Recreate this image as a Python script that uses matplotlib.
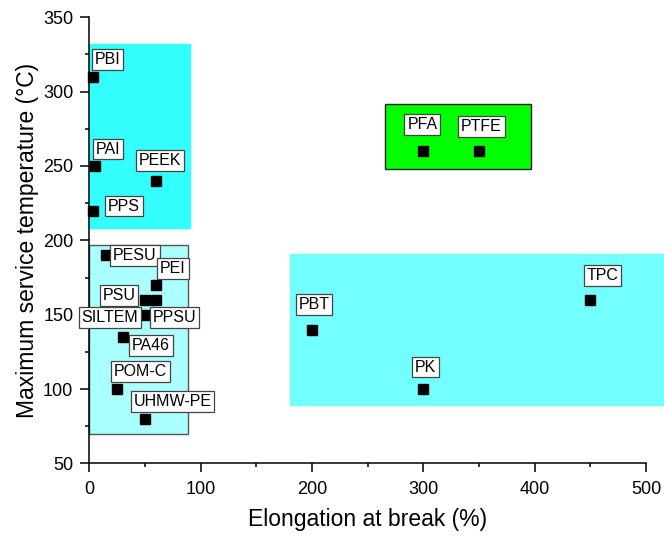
import matplotlib
matplotlib.use("Agg")
import matplotlib.pyplot as plt
from matplotlib.patches import Rectangle
from matplotlib.ticker import MultipleLocator

plt.rcParams['font.family'] = ['Liberation Sans', 'DejaVu Sans']

# ======= data =======
names = ['PBI', 'PAI', 'PEEK', 'PPS', 'PESU', 'PEI', 'PSU', 'SILTEM', 'PPSU',
         'PA46', 'POM-C', 'UHMW-PE', 'PFA', 'PTFE', 'PBT', 'PK', 'TPC']
elongation = [3, 5, 60, 3, 15, 60, 50, 50, 60, 30, 25, 50, 300, 350, 200, 300, 450]
max_temp = [310, 250, 240, 220, 190, 170, 160, 150, 160, 135, 100, 80, 260, 260, 140, 100, 160]

# shaded regions: (x0, x1, y0, y1)
region_x0 = [0, 0, 180, 266]
region_x1 = [90, 89, 520, 397]
region_y0 = [208, 70, 89, 248]
region_y1 = [332, 197, 191, 292]
region_fill = ['#33ffff', '#aaffff', '#73ffff', '#00ff00']
region_edge = ['#33ffff', '#555555', '#73ffff', '#222222']

x_ticks = [0, 100, 200, 300, 400, 500]
y_ticks = [50, 100, 150, 200, 250, 300, 350]

# label box offsets (pixels, centre of box relative to marker)
label_offsets = {
    'PBI': (15, 17.5), 'PAI': (13, 17), 'PEEK': (4, 20), 'PPS': (31.5, 4.5),
    'PESU': (29, 0), 'PEI': (17, 16.5), 'PSU': (-26, 4), 'SILTEM': (-35, -3),
    'PPSU': (18.5, -18), 'PA46': (28, -8.5), 'POM-C': (23.5, 17.5),
    'UHMW-PE': (27.5, 17), 'PFA': (-1, 27), 'PTFE': (2.5, 25),
    'PBT': (2, 25), 'PK': (2.5, 22), 'TPC': (12, 24),
}

W, H = 664, 537
fig = plt.figure(figsize=(W / 100, H / 100), dpi=100)
ax = fig.add_axes([89.3 / W, 1 - 463.4 / H, (646 - 89.3) / W, (463.4 - 17.3) / H])

for x0, x1, y0, y1, fc, ec in zip(region_x0, region_x1, region_y0, region_y1,
                                  region_fill, region_edge):
    ax.add_patch(Rectangle((x0, y0), x1 - x0, y1 - y0, facecolor=fc,
                           edgecolor=ec, linewidth=1, zorder=1, clip_on=False))

ax.plot(elongation, max_temp, linestyle='none', marker='s', markersize=7,
        color='black', zorder=3, clip_on=False)

for name, x, y in zip(names, elongation, max_temp):
    dx, dy = label_offsets[name]
    ax.annotate(name, (x, y), xytext=(dx, dy), textcoords='offset pixels',
                ha='center', va='center', fontsize=11.5, zorder=5,
                annotation_clip=False,
                bbox=dict(boxstyle='square,pad=0.18', facecolor='white',
                          edgecolor='#444444', linewidth=0.9))

ax.set_xlim(0, 500)
ax.set_ylim(50, 350)
ax.set_xticks(x_ticks)
ax.set_yticks(y_ticks)
ax.xaxis.set_minor_locator(MultipleLocator(50))
ax.yaxis.set_minor_locator(MultipleLocator(25))
ax.spines['top'].set_visible(False)
ax.spines['right'].set_visible(False)
ax.spines['left'].set_linewidth(1.1)
ax.spines['bottom'].set_linewidth(1.1)
ax.spines['left'].set_zorder(2)
ax.tick_params(which='major', direction='out', length=6.5, width=1.1, labelsize=13)
ax.tick_params(which='minor', direction='out', length=3, width=1.1)
ax.tick_params(axis='x', which='major', pad=6)
ax.tick_params(axis='y', which='major', pad=5)

ax.set_xlabel('Elongation at break (%)', fontsize=16.5)
ax.set_ylabel('Maximum service temperature (°C)', fontsize=16.5)
ax.xaxis.set_label_coords(0.5, -0.1)
ax.yaxis.set_label_coords(-0.09, 0.5)

fig.savefig('out.png', dpi=100)
